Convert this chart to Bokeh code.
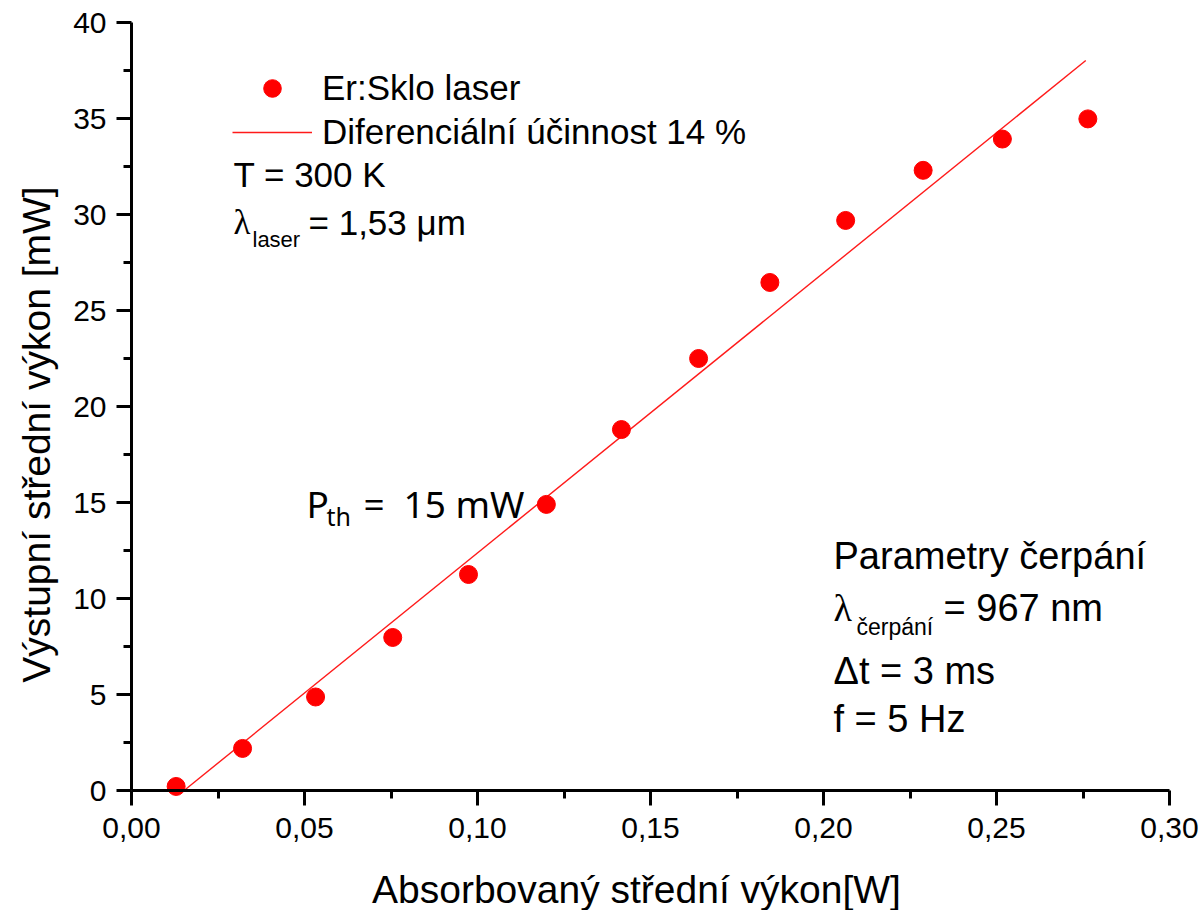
import math
from bokeh.plotting import figure
from bokeh.models import Range1d, FixedTicker, Label, Legend, LegendItem, LinearAxis
from bokeh.embed import file_html
from bokeh.resources import INLINE

# ---------------- data ----------------
absorbed_power_W = [0.0129, 0.0321, 0.0532, 0.0755, 0.0974, 0.1199, 0.1416,
                    0.1639, 0.1845, 0.2064, 0.2288, 0.2517, 0.2764]
output_power_mW = [0.21, 2.19, 4.87, 7.97, 11.25, 14.9, 18.8,
                   22.5, 26.46, 29.69, 32.3, 33.93, 34.98]
fit_x_W = [0.0152, 0.2758]
fit_y_mW = [0.0, 38.02]

x_ticks = [0.0, 0.05, 0.10, 0.15, 0.20, 0.25, 0.30]
x_tick_labels = ["0,00", "0,05", "0,10", "0,15", "0,20", "0,25", "0,30"]
x_minor_ticks = [0.025, 0.075, 0.125, 0.175, 0.225, 0.275]
y_ticks = [0, 5, 10, 15, 20, 25, 30, 35, 40]
y_tick_labels = ["0", "5", "10", "15", "20", "25", "30", "35", "40"]
y_minor_ticks = [2.5, 7.5, 12.5, 17.5, 22.5, 27.5, 32.5, 37.5]

series_name = "Er:Sklo laser"
fit_name = "Diferenciální účinnost 14 %"
x_title = "Absorbovaný střední výkon[W]"
y_title = "Výstupní střední výkon [mW]"

# ---------------- layout helpers (picture pixel -> data) ----------------
W, H = 1203, 910
AX0, AX1, AY0, AY1 = 131, 1169, 790, 22   # axis extents in picture px
XMAX, YMAX = 0.30, 40.0
BASE_SHIFT = 0.37                         # em correction for text baseline


def dx(px):
    return (px - AX0) / (AX1 - AX0) * XMAX


def dy(py):
    return (AY0 - py) / (AY0 - AY1) * YMAX


# the frame fills the whole canvas; axes sit at x=0 / y=0 inside it
p = figure(width=W, height=H,
           x_range=Range1d(dx(0), dx(W)), y_range=Range1d(dy(H), dy(0)),
           x_axis_location=None, y_axis_location=None,
           output_backend="svg", toolbar_location=None,
           min_border=0, min_border_left=0, min_border_right=0,
           min_border_top=0, min_border_bottom=0)
p.outline_line_color = None
p.grid.visible = False
p.background_fill_color = "white"
p.border_fill_color = "white"

xaxis = LinearAxis(fixed_location=0, bounds=(0, XMAX),
                   ticker=FixedTicker(ticks=x_ticks, minor_ticks=x_minor_ticks),
                   major_label_overrides=dict(zip(x_ticks, x_tick_labels)))
yaxis = LinearAxis(fixed_location=0, bounds=(0, YMAX),
                   ticker=FixedTicker(ticks=y_ticks, minor_ticks=y_minor_ticks),
                   major_label_overrides=dict(zip(y_ticks, y_tick_labels)))
for ax in (xaxis, yaxis):
    ax.axis_line_width = 3
    ax.axis_line_color = "black"
    ax.major_tick_line_width = 3
    ax.minor_tick_line_width = 3
    ax.major_tick_line_color = "black"
    ax.minor_tick_line_color = "black"
    ax.major_tick_out = 15
    ax.major_tick_in = 0
    ax.minor_tick_out = 8
    ax.minor_tick_in = 0
    ax.major_label_text_font = "Liberation Sans"
    ax.major_label_text_font_size = "30px"
    ax.major_label_text_color = "black"
xaxis.major_label_standoff = 12
yaxis.major_label_standoff = 10
p.add_layout(xaxis, "below")
p.add_layout(yaxis, "left")

r_line = p.line(fit_x_W, fit_y_mW, line_color="#ff1a1a", line_width=1.4)
r_pts = p.scatter(absorbed_power_W, output_power_mW, size=18,
                  fill_color="#ff0000", line_color="#ff0000")

legend = Legend(items=[LegendItem(label=series_name, renderers=[r_pts]),
                       LegendItem(label=fit_name, renderers=[r_line])],
                location=(232, H - 154))
legend.border_line_color = None
legend.background_fill_alpha = 0
legend.padding = 0
legend.margin = 0
legend.spacing = 0
legend.glyph_width = 80
legend.glyph_height = 44
legend.label_height = 44
legend.label_standoff = 10
legend.label_text_font = "Liberation Sans"
legend.label_text_font_size = "35px"
legend.label_text_color = "black"
p.add_layout(legend)


def add_text(text, px, py, size, font="Liberation Sans", align="left", angle=0.0):
    # (px, py): wanted baseline anchor in picture pixels
    if angle:
        px = px - BASE_SHIFT * size
    else:
        py = py - BASE_SHIFT * size
    p.add_layout(Label(x=dx(px), y=dy(py), text=text, text_font=font,
                       text_font_size=f"{size}px", text_color="black",
                       text_align=align, text_baseline="alphabetic", angle=angle))


# axis titles
add_text(x_title, 636, 903, 39, align="center")
add_text(y_title, 50, 434, 39, align="center", angle=math.pi / 2)

# top-left notes
add_text("T = 300 K", 233, 187, 35)
add_text("λ", 233, 235, 35, font="Liberation Serif")
add_text("laser", 252, 247, 22)
add_text("= 1,53 μm", 308, 235, 35)

# threshold note
add_text("P", 306, 517, 37, font="Noto Sans")
add_text("th", 326, 525, 25, font="Noto Sans")
add_text("=", 363, 517, 37, font="Noto Sans")
add_text("15 mW", 403, 517, 37, font="Noto Sans")

# pump parameters
add_text("Parametry čerpání", 833, 570, 38)
add_text("λ", 833, 622, 38, font="Liberation Serif")
add_text("čerpání", 856, 635, 23)
add_text("= 967 nm", 943, 622, 38)
add_text("Δt = 3 ms", 833, 685, 38)
add_text("f = 5 Hz", 833, 733, 38)

open("out.html", "w").write(file_html(p, INLINE))
